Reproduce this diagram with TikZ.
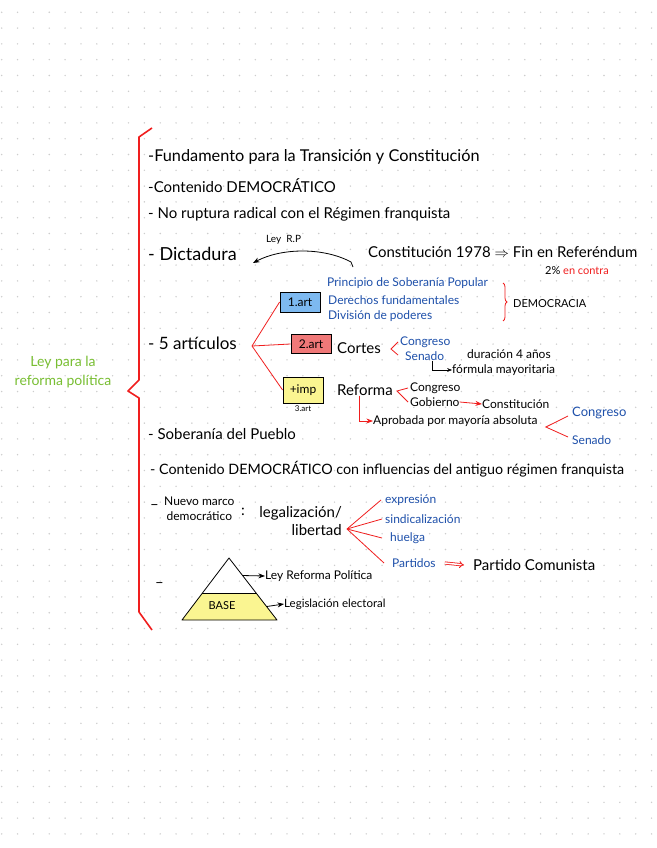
\documentclass[tikz,border=0pt]{standalone}
\usepackage{fontspec}
\setmainfont{Lato}
\usetikzlibrary{arrows.meta, calc, positioning, decorations.pathreplacing}

\definecolor{inkred}{RGB}{240,30,30}
\definecolor{inkblue}{RGB}{30,80,170}
\definecolor{inkgreen}{RGB}{120,190,50}
\definecolor{boxblue}{RGB}{125,185,240}
\definecolor{boxred}{RGB}{240,120,120}
\definecolor{boxyellow}{RGB}{250,245,145}
\definecolor{griddot}{RGB}{205,205,205}

\begin{document}
\begin{tikzpicture}[
        x=1pt, y=-1pt,
        >=Stealth,
        txt/.style={anchor=west, inner sep=0pt, font=\fontsize{15}{17}\selectfont},
        note/.style={anchor=west, inner sep=0pt, font=\fontsize{12}{15}\selectfont},
        bnote/.style={note, text=inkblue},
        artbox/.style={draw, thick, inner sep=2pt, minimum width=40pt, font=\fontsize{12}{14}\selectfont},
        redline/.style={inkred, thick},
        blackarrow/.style={->, thick}
    ]

% Fondo punteado
        \useasboundingbox (0,0) rectangle (656,848);
        \fill[white] (0,0) rectangle (656,848);
        \foreach \i in {0,...,41}
            \foreach \j in {0,...,52}
                \fill[griddot] (1.7+15.85*\i, 12.3+15.8*\j) circle (0.8);

% Llave roja y título
        \draw[inkred, line width=1.6pt, line join=round] (152,128) -- (139,137) -- (139,380) -- (128,391) -- (139,398) -- (139,612) -- (152,630);
        \node[text=inkgreen, font=\fontsize{14}{19}\selectfont, align=center] (titulo) at (63,372) {Ley para la\\reforma política};

% Primeras líneas
        \node[txt, font=\fontsize{16.3}{18}\selectfont] (fund) at (148,157) {-Fundamento para la Transición y Constitución};
        \node[txt] (cont) at (148,186) {-Contenido DEMOCRÁTICO};
        \node[txt] (rupt) at (148,214) {- No ruptura radical con el Régimen franquista};
        \node[txt, font=\fontsize{18}{20}\selectfont] (dict) at (148,254) {- Dictadura};
        \node[txt] (const) at (368,252) {Constitución 1978 $\Rightarrow$ Fin en Referéndum};
        \node[note, font=\fontsize{10}{12}\selectfont] (leyrp) at (266,240) {Ley\ \ R.P};
        \node[note, font=\fontsize{11}{13}\selectfont] (contra) at (545,271) {2\% \textcolor{inkred}{en contra}};
        \coordinate (arcl) at (253,263);
        \coordinate (arcr) at (351,262);
        \draw[<-, thick] (arcl) .. controls +(28,-15) and +(-28,-15) .. (arcr) -- ++(2,5);

% 5 artículos
        \node[txt, font=\fontsize{17}{19}\selectfont] (cinco) at (148,343) {- 5 artículos};
        \coordinate (fork) at (252,346);
        \node[artbox, fill=boxblue, minimum height=20pt] (art1) at (300,302) {1.art};
        \node[artbox, fill=boxred, minimum height=19pt] (art2) at (311,344) {2.art};
        \node[artbox, fill=boxyellow, minimum height=26pt] (art3) at (303,390) {+imp};
        \node[font=\fontsize{8}{9}\selectfont, inner sep=0pt, below=2pt of art3] (art3b) {3.art};
        \draw[redline] (fork) -- (art1.west);
        \draw[redline] (fork) -- (art2.west);
        \draw[redline] (fork) -- (art3.west);

% Artículo 1
        \node[bnote] (prin) at (327,283) {Principio de Soberanía Popular};
        \node[bnote] (dere) at (328,300) {Derechos fundamentales};
        \node[bnote] (divi) at (328,316) {División de poderes};
        \draw[redline, decorate, decoration={brace, amplitude=4pt}] (503,283) -- (503,321);
        \node[note, font=\fontsize{11}{13}\selectfont] (demo) at (513,304) {DEMOCRACIA};

% Artículo 2
        \node[txt] (cortes) at (337,348) {Cortes};
        \node[bnote] (cong2) at (400,342) {Congreso};
        \node[bnote] (sen2) at (405,356) {Senado};
        \draw[redline] ($(cong2.west)+(-2,0)$) -- ($(cortes.east)+(10,1)$) -- ($(sen2.west)+(-7,-1)$);
        \node[note] (dura) at (467,354) {duración 4 años};
        \node[note] (form) at (452,370) {fórmula mayoritaria};
        \draw[->] ([xshift=7pt]sen2.south) |- (form.west);

% Artículo 3
        \node[txt] (reforma) at (337,390) {Reforma};
        \node[note] (cong3) at (410,388) {Congreso};
        \node[note] (gob3) at (410,402) {Gobierno};
        \draw[redline] ($(cong3.west)+(-2,0)$) -- ($(reforma.east)+(4,1)$) -- ($(gob3.west)+(-2,0)$);
        \node[note] (constit) at (482,404) {Constitución};
        \draw[redline, ->] (gob3.east) -- (constit.west);
        \node[note] (aprob) at (373,421) {Aprobada por mayoría absoluta};
        \draw[redline, ->] ([xshift=-6pt]reforma.south) |- (aprob.west);
        \node[bnote, font=\fontsize{13}{15}\selectfont] (cong4) at (572,413) {Congreso};
        \node[bnote] (sen4) at (572,440) {Senado};
        \draw[redline] ($(cong4.west)+(-4,3)$) -- ($(aprob.east)+(8,6)$) -- ($(sen4.west)+(-4,-3)$);

% Líneas siguientes
        \node[txt] (sobe) at (148,434) {- Soberanía del Pueblo};
        \node[txt, font=\fontsize{14.3}{16}\selectfont] (cont2) at (150,469) {- Contenido DEMOCRÁTICO con influencias del antiguo régimen franquista};

% Nuevo marco democrático
        \node[txt] (dash8) at (150,507) {–};
        \node[note, align=center] (nuevo) at (164,509) {Nuevo marco\\democrático};
        \node[txt] (dosp) at (241,512) {:};
        \node[txt, anchor=east, align=right, font=\fontsize{15}{18}\selectfont] (legal) at (342,521) {legalización/\\libertad};
        \coordinate (fan) at (347,529);
        \node[bnote] (expr) at (385,500) {expresión};
        \node[bnote] (sind) at (385,519) {sindicalización};
        \node[bnote] (huel) at (390,538) {huelga};
        \node[bnote] (part) at (392,563) {Partidos};
        \draw[redline] (fan) -- ([xshift=-4pt]expr.west);
        \draw[redline] (fan) -- ([xshift=-3pt]sind.west);
        \draw[redline] (fan) -- ([xshift=-8pt]huel.west);
        \draw[redline] (fan) -- ([xshift=-8pt]part.west);
        \node[txt] (pcom) at (473,565) {Partido Comunista};
        \draw[inkred, thick, double, double distance=1.5pt, -Implies] ([xshift=9pt]part.east) -- ([xshift=-9pt]pcom.west);

% Pirámide
        \node[txt] (dash9) at (155,585) {–};
        \coordinate (apex) at (229,558);
        \coordinate (bl) at (182,620);
        \coordinate (br) at (277,620);
        \coordinate (dl) at ($(bl)!0.435!(apex)$);
        \coordinate (dr) at ($(br)!0.435!(apex)$);
        \fill[boxyellow] (dl) -- (dr) -- (br) -- (bl) -- cycle;
        \draw[thick, line join=round] (apex) -- (br) -- (bl) -- cycle;
        \draw[thick] (dl) -- (dr);
        \node[font=\fontsize{11}{13}\selectfont] (base) at (222,606) {BASE};
        \node[note] (leyref) at (265,576) {Ley Reforma Política};
        \node[note, font=\fontsize{11.5}{13}\selectfont] (legis) at (284,604) {Legislación electoral};
        \draw[blackarrow] ($(apex)!0.5!(dr)$) -- (leyref.west);
        \draw[blackarrow] ($(dr)!0.5!(br)$) -- (legis.west);
    \end{tikzpicture}
\end{document}
